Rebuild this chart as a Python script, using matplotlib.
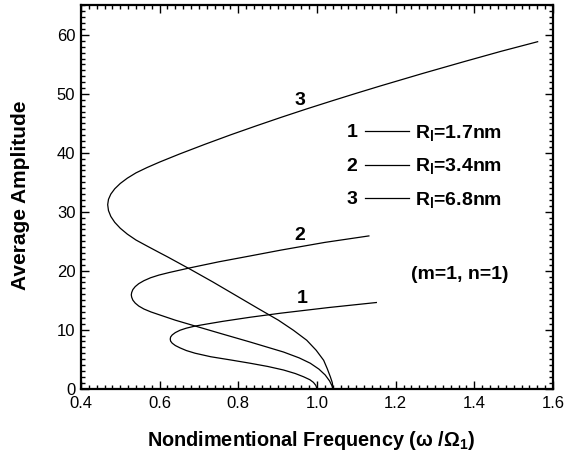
import matplotlib
matplotlib.use("Agg")
import matplotlib.pyplot as plt
from matplotlib.ticker import MultipleLocator, FormatStrFormatter
from matplotlib.lines import Line2D

plt.rcParams['font.family'] = ['Liberation Sans', 'DejaVu Sans']
plt.rcParams['mathtext.fontset'] = 'custom'
plt.rcParams['mathtext.rm'] = 'Liberation Sans'
plt.rcParams['mathtext.it'] = 'Liberation Sans:italic'
plt.rcParams['mathtext.bf'] = 'Liberation Sans:bold'

# Curve data, ordered from the bottom start along lower branch, then upper branch
curve1_x = [1.000, 0.997, 0.991, 0.982, 0.966, 0.945, 0.915, 0.875, 0.830, 0.781, 0.730, 0.690, 0.668, 0.652, 0.640, 0.632, 0.628, 0.627,
            0.628, 0.632, 0.640, 0.652, 0.668, 0.690, 0.720, 0.760, 0.830, 0.909, 1.030, 1.151]
curve1_y = [0.0, 0.55, 1.05, 1.5, 2.0, 2.55, 3.15, 3.75, 4.3, 4.85, 5.4, 6.0, 6.45, 6.9, 7.3, 7.7, 8.05, 8.4,
            8.75, 9.1, 9.5, 9.9, 10.25, 10.6, 10.95, 11.4, 12.1, 12.8, 13.75, 14.6]

curve2_x = [1.040, 1.038, 1.032, 1.021, 1.005, 0.983, 0.955, 0.915, 0.830, 0.760, 0.696, 0.640, 0.600, 0.578, 0.560, 0.547, 0.538, 0.532, 0.529, 0.528,
            0.529, 0.532, 0.538, 0.547, 0.560, 0.577, 0.598, 0.625, 0.675, 0.750, 0.830, 0.909, 1.020, 1.132]
curve2_y = [0.0, 0.5, 1.3, 2.3, 3.3, 4.3, 5.2, 6.2, 7.9, 9.25, 10.5, 11.6, 12.5, 13.0, 13.5, 14.0, 14.5, 15.0, 15.5, 15.9,
            16.3, 16.8, 17.3, 17.8, 18.3, 18.8, 19.25, 19.7, 20.45, 21.5, 22.5, 23.5, 24.8, 25.9]

curve3_x = [1.041, 1.039, 1.034, 1.026, 1.017, 0.998, 0.974, 0.940, 0.902, 0.850, 0.790, 0.735, 0.679, 0.620, 0.600, 0.569, 0.540, 0.518, 0.500, 0.486, 0.476, 0.470, 0.468,
            0.470, 0.476, 0.486, 0.500, 0.518, 0.540, 0.568, 0.600, 0.650, 0.715, 0.781, 0.845, 0.909, 0.973, 1.037, 1.099, 1.161, 1.268, 1.374, 1.468, 1.561]
curve3_y = [0.0, 1.0, 2.0, 3.4, 4.8, 6.5, 8.2, 9.9, 11.6, 13.6, 15.95, 18.1, 20.2, 22.35, 23.05, 24.15, 25.2, 26.2, 27.2, 28.2, 29.2, 30.2, 31.2,
            32.1, 33.0, 33.9, 34.8, 35.7, 36.6, 37.5, 38.43, 39.78, 41.44, 43.06, 44.56, 46.02, 47.43, 48.79, 50.08, 51.34, 53.45, 55.47, 57.22, 58.85]

curve_labels = ['1', '2', '3']
legend_texts = [r'$\mathbf{R_l}$=1.7nm', r'$\mathbf{R_l}$=3.4nm', r'$\mathbf{R_l}$=6.8nm']

fig = plt.figure(figsize=(5.66, 4.55), dpi=100)
ax = fig.add_axes([0.143, 0.146, 0.834, 0.842])

for xs, ys in [(curve1_x, curve1_y), (curve2_x, curve2_y), (curve3_x, curve3_y)]:
    ax.plot(xs, ys, color='black', lw=0.9, solid_joinstyle='round')

ax.set_xlim(0.4, 1.6)
ax.set_ylim(0, 65)
ax.xaxis.set_major_locator(MultipleLocator(0.2))
ax.xaxis.set_minor_locator(MultipleLocator(0.02))
ax.yaxis.set_major_locator(MultipleLocator(10))
ax.yaxis.set_minor_locator(MultipleLocator(1))
ax.xaxis.set_major_formatter(FormatStrFormatter('%.1f'))
ax.tick_params(which='both', direction='in', top=True, right=True, labelsize=12, width=1.0)
ax.tick_params(axis='x', pad=5)
ax.tick_params(axis='y', pad=4)
ax.tick_params(which='major', length=6)
ax.tick_params(which='minor', length=3)
for s in ax.spines.values():
    s.set_linewidth(1.6)

ax.set_xlabel(r'Nondimentional Frequency (ω /$\mathbf{\Omega_1}$)', fontsize=14.3, fontweight='bold')
ax.set_ylabel('Average Amplitude', fontsize=15, fontweight='bold')
ax.xaxis.set_label_coords(0.487, -0.105)
ax.yaxis.set_label_coords(-0.107, 0.505)

# curve number labels
ax.text(0.962, 15.3, curve_labels[0], fontsize=14, fontweight='bold', ha='center', va='center')
ax.text(0.957, 25.9, curve_labels[1], fontsize=14, fontweight='bold', ha='center', va='center')
ax.text(0.956, 48.9, curve_labels[2], fontsize=14, fontweight='bold', ha='center', va='center')

# legend-like annotations
rows_y = [43.4, 37.7, 32.0]
for lab, txt, yy in zip(curve_labels, legend_texts, rows_y):
    ax.text(1.089, yy, lab, fontsize=14, fontweight='bold', ha='center', va='center')
    ax.add_line(Line2D([1.123, 1.234], [yy + 0.3, yy + 0.3], color='black', lw=0.9))
    ax.text(1.249, yy, txt, fontsize=14, fontweight='bold', ha='left', va='center')

ax.text(1.363, 19.4, '(m=1, n=1)', fontsize=14, fontweight='bold', ha='center', va='center')

fig.savefig('out.png', dpi=100)
